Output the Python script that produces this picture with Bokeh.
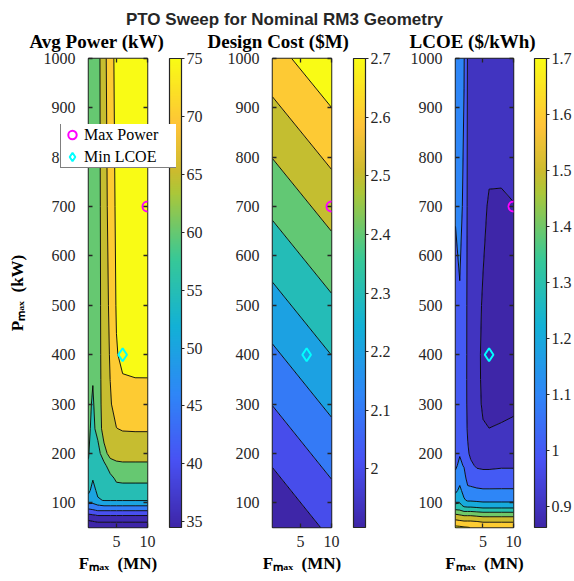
import numpy as np
from bokeh.plotting import figure
from bokeh.models import (Range1d, LinearAxis, FixedTicker, ColorBar, LinearColorMapper,
                          Legend, LegendItem, ColumnDataSource)
from bokeh.layouts import row, column
from bokeh.embed import file_html
from bokeh.resources import INLINE
from bokeh.core.properties import value

# ---------------- texts ----------------
SUPTITLE = "PTO Sweep for Nominal RM3 Geometry"
PANEL_TITLES = ["Avg Power (kW)", "Design Cost ($M)", "LCOE ($/kWh)"]
X_LABEL = "F\u2098\u2090\u2093\u00a0\u00a0(MN)"
Y_LABEL = "P\u2098\u2090\u2093\u00a0\u00a0(kW)"
LEGEND_LABELS = ["Max Power", "Min LCOE"]

X_TICKS = [5, 10]
Y_TICKS = [100, 200, 300, 400, 500, 600, 700, 800, 900, 1000]

# ---------------- data ----------------
P_MAX = [50, 62, 75, 85, 95, 105, 125, 150, 175, 200, 250, 300, 350, 400, 500, 700, 1000]

F_MAX_POWER = [0.5, 1.2, 2, 3, 4, 5, 6, 8, 10]
AVG_POWER = [
    [30.0, 30.5, 31.0, 31.0, 31.0, 31.0, 31.0, 31.0, 31.0],
    [34.2, 34.8, 35.5, 35.5, 35.5, 35.5, 35.5, 35.5, 35.5],
    [39.0, 39.6, 40.3, 40.3, 40.3, 40.3, 40.3, 40.3, 40.3],
    [43.8, 44.5, 45.5, 45.5, 45.5, 45.5, 45.5, 45.5, 45.5],
    [48.5, 48.8, 49.8, 50.5, 50.5, 50.5, 50.5, 50.5, 50.5],
    [53.0, 52.0, 54.5, 55.2, 55.2, 55.2, 55.2, 55.2, 55.2],
    [56.0, 53.5, 56.0, 56.8, 57.5, 58.0, 58.2, 58.2, 58.2],
    [58.5, 55.3, 56.3, 57.0, 58.45, 61.0, 61.2, 61.2, 61.2],
    [59.6, 56.0, 57.0, 58.35, 62.75, 63.9, 64.1, 64.1, 64.1],
    [60.3, 57.0, 57.7, 63.5, 66.5, 66.8, 67.0, 67.0, 67.0],
    [61.0, 58.6, 62.0, 67.0, 69.0, 69.9, 70.3, 70.4, 70.4],
    [61.2, 59.4, 62.6, 67.2, 69.5, 72.0, 72.8, 73.0, 73.0],
    [61.3, 60.2, 62.8, 67.3, 70.05, 73.6, 74.7, 74.9, 74.9],
    [61.4, 60.8, 62.9, 67.4, 70.4, 74.7, 76.0, 76.4, 76.5],
    [61.6, 61.3, 63.0, 67.5, 71.0, 75.4, 76.8, 77.3, 77.5],
    [61.8, 61.8, 63.1, 67.8, 72.0, 75.9, 77.3, 77.8, 78.0],
    [62.0, 62.3, 63.2, 68.4, 72.9, 76.5, 77.5, 78.0, 78.2],
]

F_MAX_COST = [0.5, 10]
P_MAX_COST = [50, 1000]
DESIGN_COST = [
    [1.903, 2.022],
    [2.662, 2.779],
]

F_MAX_LCOE = [0.5, 1.2, 1.9, 2.5, 3, 4, 5, 6, 8, 10]
LCOE = [
    [1.725, 1.72, 1.71, 1.705, 1.698, 1.69, 1.68, 1.68, 1.68, 1.68],
    [1.63, 1.62, 1.61, 1.61, 1.61, 1.602, 1.59, 1.59, 1.59, 1.59],
    [1.52, 1.505, 1.49, 1.49, 1.49, 1.48, 1.47, 1.47, 1.47, 1.47],
    [1.41, 1.402, 1.37, 1.37, 1.37, 1.36, 1.35, 1.35, 1.35, 1.35],
    [1.32, 1.33, 1.27, 1.26, 1.26, 1.25, 1.24, 1.24, 1.24, 1.24],
    [1.25, 1.27, 1.21, 1.19, 1.19, 1.185, 1.18, 1.18, 1.18, 1.18],
    [1.18, 1.22, 1.17, 1.12, 1.12, 1.115, 1.11, 1.11, 1.11, 1.11],
    [1.12, 1.17, 1.13, 1.07, 1.06, 1.04, 1.035, 1.035, 1.04, 1.04],
    [1.09, 1.115, 1.095, 1.035, 1.015, 0.99, 0.985, 0.985, 0.99, 0.99],
    [1.075, 1.095, 1.07, 1.01, 0.985, 0.96, 0.95, 0.945, 0.95, 0.955],
    [1.065, 1.08, 1.05, 0.99, 0.958, 0.935, 0.905, 0.9005, 0.905, 0.91],
    [1.06, 1.075, 1.05, 0.982, 0.948, 0.92, 0.892, 0.88, 0.885, 0.89],
    [1.06, 1.075, 1.052, 0.98, 0.945, 0.918, 0.888, 0.87, 0.875, 0.88],
    [1.065, 1.08, 1.055, 0.98, 0.945, 0.918, 0.887, 0.862, 0.87, 0.875],
    [1.08, 1.09, 1.06, 0.98, 0.95, 0.922, 0.893, 0.868, 0.872, 0.878],
    [1.105, 1.13, 1.08, 0.985, 0.96, 0.935, 0.915, 0.892, 0.895, 0.899],
    [1.15, 1.16, 1.105, 0.99, 0.97, 0.96, 0.95, 0.96, 0.935, 0.93],
]

POWER_LEVELS = [35, 40, 45, 50, 55, 60, 65, 70, 75]
COST_LEVELS = [2.0, 2.1, 2.2, 2.3, 2.4, 2.5, 2.6, 2.7]
LCOE_LEVELS = [0.9, 1.0, 1.1, 1.2, 1.3, 1.4, 1.5, 1.6, 1.7]

POWER_CLIM = [34.5, 75]
COST_CLIM = [1.9, 2.7]
LCOE_CLIM = [0.862, 1.7]

POWER_CB_TICKS = [35, 40, 45, 50, 55, 60, 65, 70, 75]
POWER_CB_LABELS = ["35", "40", "45", "50", "55", "60", "65", "70", "75"]
COST_CB_TICKS = [2.0, 2.1, 2.2, 2.3, 2.4, 2.5, 2.6, 2.7]
COST_CB_LABELS = ["2", "2.1", "2.2", "2.3", "2.4", "2.5", "2.6", "2.7"]
LCOE_CB_TICKS = [0.9, 1.0, 1.1, 1.2, 1.3, 1.4, 1.5, 1.6, 1.7]
LCOE_CB_LABELS = ["0.9", "1", "1.1", "1.2", "1.3", "1.4", "1.5", "1.6", "1.7"]

MAX_POWER_F = [10]
MAX_POWER_P = [700]
MIN_LCOE_F = [6]
MIN_LCOE_P = [400]

# ---------------- colormap (parula-like) ----------------
PARULA_POS = [0.0, 1 / 7, 2 / 7, 3 / 7, 4 / 7, 5 / 7, 0.76, 6 / 7, 1.0]
PARULA_HEX = ["#3e26a8", "#4852f4", "#2e87f7", "#12b1d6", "#37c897",
              "#abc739", "#cbbb2e", "#fec338", "#f9fb15"]
_RGB = np.array([[int(h[i:i + 2], 16) for i in (1, 3, 5)] for h in PARULA_HEX], dtype=float)


def parula(t):
    t = min(max(float(t), 0.0), 1.0)
    c = [int(round(np.interp(t, PARULA_POS, _RGB[:, k]))) for k in range(3)]
    return "#%02x%02x%02x" % tuple(c)


PALETTE = [parula(i / 255) for i in range(256)]

TXT = "#262626"
SERIF = "Liberation Serif"
NBSP = "\u00a0"
PAGE_H = 581

# (figure width, min_border_left, min_border_right, title_offset, cbar_gap)
LAYOUT = [
    (205, 88, 58, -59, 19),
    (190, 67, 64, -65, 19),
    (179, 60, 59, -46, 18),
]


def make_panel(i, F, P, Z, levels, clim, cb_ticks, cb_labels, ylabel=None):
    w, bl, br, toff, gap = LAYOUT[i]
    p = figure(width=w, height=PAGE_H,
               x_range=Range1d(0.5, 10), y_range=Range1d(50, 1000),
               output_backend="svg", toolbar_location=None,
               min_border_left=bl, min_border_right=br,
               min_border_top=58, min_border_bottom=54,
               title=PANEL_TITLES[i])
    p.grid.visible = False
    p.outline_line_color = TXT
    p.outline_line_width = 1.5
    p.background_fill_color = "white"
    p.border_fill_color = "white"

    p.title.text_font = SERIF
    p.title.text_font_style = "bold"
    p.title.text_font_size = "19px"
    p.title.text_color = "black"
    p.title.align = "left"
    p.title.offset = toff
    p.title.standoff = 5

    for ax in (p.xaxis[0], p.yaxis[0]):
        ax.major_label_text_font = SERIF
        ax.major_label_text_font_size = "16px"
        ax.major_label_text_color = TXT
        ax.major_tick_in = 4
        ax.major_tick_out = 0
        ax.major_tick_line_color = TXT
        ax.major_tick_line_width = 1.3
        ax.minor_tick_line_color = None
        ax.axis_line_color = None
        ax.axis_label_text_font = SERIF
        ax.axis_label_text_font_style = "bold"
        ax.axis_label_text_font_size = "17px"
        ax.axis_label_text_color = "black"
    p.xaxis[0].ticker = FixedTicker(ticks=X_TICKS)
    p.yaxis[0].ticker = FixedTicker(ticks=Y_TICKS)
    p.xaxis[0].major_label_standoff = 8
    p.yaxis[0].major_label_standoff = 13
    p.xaxis[0].axis_label = X_LABEL
    p.xaxis[0].axis_label_standoff = 4
    if ylabel:
        p.yaxis[0].axis_label = ylabel
        p.yaxis[0].axis_label_standoff = 14

    # contour fill + lines
    Zarr = np.array(Z, dtype=float)
    lv = [float(Zarr.min()) - 1.0] + list(levels) + [float(Zarr.max()) + 1.0]
    lo, hi = clim
    fills = [parula(0.0)] + [parula((l - lo) / (hi - lo)) for l in levels]
    p.contour(x=np.array(F, dtype=float), y=np.array(P, dtype=float), z=Zarr,
              levels=lv, fill_color=fills, line_color="black", line_width=0.9)

    # mirrored ticks (box on)
    ra = LinearAxis(ticker=FixedTicker(ticks=Y_TICKS),
                    major_label_overrides={t: NBSP for t in Y_TICKS},
                    major_label_text_font_size="1px", major_label_standoff=gap,
                    major_tick_in=4, major_tick_out=0, major_tick_line_color=TXT,
                    major_tick_line_width=1.3, minor_tick_line_color=None,
                    axis_line_color=None)
    ta = LinearAxis(ticker=FixedTicker(ticks=X_TICKS),
                    major_label_overrides={t: NBSP for t in X_TICKS},
                    major_label_text_font_size="1px", major_label_standoff=0,
                    major_tick_in=4, major_tick_out=0, major_tick_line_color=TXT,
                    major_tick_line_width=1.3, minor_tick_line_color=None,
                    axis_line_color=None)
    p.add_layout(ra, "right")
    p.add_layout(ta, "above")

    # colorbar
    mapper = LinearColorMapper(palette=PALETTE, low=lo, high=hi)
    cb = ColorBar(color_mapper=mapper, ticker=FixedTicker(ticks=cb_ticks),
                  major_label_overrides=dict(zip(cb_ticks, cb_labels)),
                  width=12, height=469, location="top_left", margin=0, padding=0,
                  label_standoff=2, major_tick_in=0, major_tick_out=3,
                  major_tick_line_color=TXT, minor_tick_line_color=None,
                  bar_line_color=TXT, bar_line_width=1.2,
                  major_label_text_font=SERIF, major_label_text_font_size="16px",
                  major_label_text_color=TXT, border_line_color=None)
    p.add_layout(cb, "right")

    # markers
    p.scatter(x="F", y="P", source=ColumnDataSource(dict(F=MAX_POWER_F, P=MAX_POWER_P)),
              marker="circle", size=10, fill_color=None, line_color="#ff00ff", line_width=2)
    p.scatter(x="F", y="P", source=ColumnDataSource(dict(F=MIN_LCOE_F, P=MIN_LCOE_P)),
              marker="diamond", size=13, fill_color=None, line_color="#00ffff", line_width=2)
    return p


p1 = make_panel(0, F_MAX_POWER, P_MAX, AVG_POWER, POWER_LEVELS, POWER_CLIM,
                POWER_CB_TICKS, POWER_CB_LABELS, ylabel=Y_LABEL)
p2 = make_panel(1, F_MAX_COST, P_MAX_COST, DESIGN_COST, COST_LEVELS, COST_CLIM,
                COST_CB_TICKS, COST_CB_LABELS)
p3 = make_panel(2, F_MAX_LCOE, P_MAX, LCOE, LCOE_LEVELS, LCOE_CLIM,
                LCOE_CB_TICKS, LCOE_CB_LABELS)

# main title strip (overlaid on the top of the row)
tp = figure(width=574, height=34, x_range=Range1d(0, 574), y_range=Range1d(0, 34),
            output_backend="svg", toolbar_location=None, min_border=0,
            x_axis_location=None, y_axis_location=None,
            background_fill_color=None, border_fill_color=None)
tp.grid.visible = False
tp.outline_line_color = None
tp.text(x=[284], y=[15], text=[SUPTITLE], text_font=value("Liberation Sans"),
        text_font_style="bold", text_font_size="17px", text_align="center",
        text_baseline="alphabetic", text_color=TXT)
tp.margin = (-PAGE_H, 0, 0, 0)

# legend box (overlaid on the first panel, spilling over its tick labels as in the original)
leg = figure(width=117, height=45, x_range=Range1d(0, 1), y_range=Range1d(0, 1),
             output_backend="svg", toolbar_location=None, min_border=0,
             x_axis_location=None, y_axis_location=None,
             background_fill_color=None, border_fill_color=None)
leg.grid.visible = False
leg.outline_line_color = None
lr1 = leg.scatter(x="F", y="P", source=ColumnDataSource(dict(F=MAX_POWER_F, P=MAX_POWER_P)),
                  marker="circle", size=10, fill_color=None, line_color="#ff00ff", line_width=2)
lr2 = leg.scatter(x="F", y="P", source=ColumnDataSource(dict(F=MIN_LCOE_F, P=MIN_LCOE_P)),
                  marker="diamond", size=13, fill_color=None, line_color="#00ffff", line_width=2)
legend = Legend(items=[LegendItem(label=LEGEND_LABELS[0], renderers=[lr1]),
                       LegendItem(label=LEGEND_LABELS[1], renderers=[lr2])],
                location=(1, 1), label_text_font=SERIF, label_text_font_size="16px",
                label_text_color="black", padding=0, spacing=1, margin=0,
                glyph_width=22, glyph_height=21, label_height=21, label_width=92,
                label_standoff=1, border_line_color="black", border_line_width=1.2,
                background_fill_color="white", background_fill_alpha=1.0)
leg.add_layout(legend)
leg.margin = (90, 0, PAGE_H - (34 + 90 + 45), 59)

layout = column(row(p1, p2, p3), tp, leg)
open("out.html", "w").write(file_html(layout, INLINE, title="PTO Sweep"))
